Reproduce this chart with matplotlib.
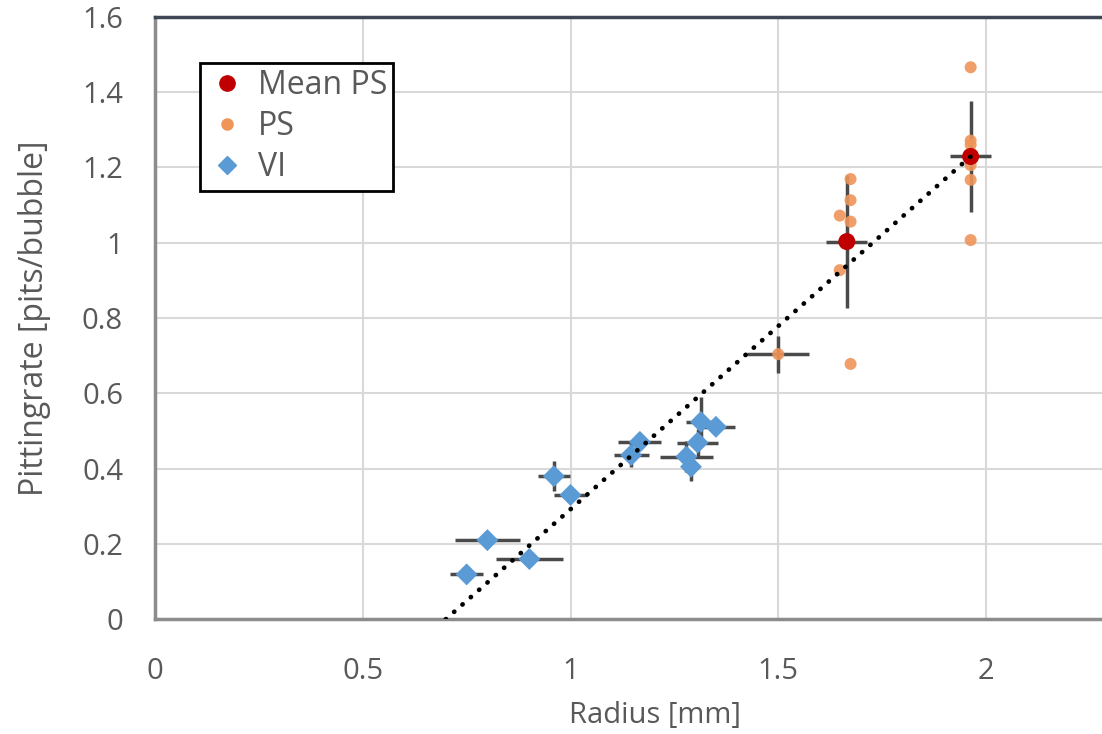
import numpy as np
import matplotlib
matplotlib.use("Agg")
import matplotlib.pyplot as plt
from matplotlib.lines import Line2D

# Visual inspection (VI) measurements
vi_radius = [0.750, 0.800, 0.901, 0.960, 1.000, 1.146, 1.167, 1.279, 1.290, 1.306, 1.314, 1.350]
vi_rate = [0.119, 0.210, 0.160, 0.380, 0.330, 0.436, 0.471, 0.432, 0.405, 0.469, 0.524, 0.511]
vi_radius_err = [0.039, 0.079, 0.080, 0.039, 0.039, 0.042, 0.052, 0.063, 0.020, 0.050, 0.036, 0.046]
vi_rate_err = [0.020, 0.0, 0.0, 0.039, 0.0, 0.033, 0.0, 0.040, 0.037, 0.035, 0.065, 0.0]

# Individual PS measurements
ps_radius = [1.500, 1.674, 1.674, 1.648, 1.674, 1.648, 1.674,
             1.963, 1.963, 1.963, 1.963, 1.963, 1.963]
ps_rate = [0.704, 1.169, 1.113, 1.072, 1.056, 0.927, 0.678,
           1.466, 1.271, 1.260, 1.206, 1.167, 1.007]
ps_radius_err = [0.075, 0, 0, 0, 0, 0, 0, 0, 0, 0, 0, 0, 0]
ps_rate_err = [0.049, 0, 0, 0, 0, 0, 0, 0, 0, 0, 0, 0, 0]

# Mean PS values
mean_radius = [1.665, 1.963]
mean_rate = [1.003, 1.229]
mean_radius_err = [0.049, 0.049]
mean_rate_err = [0.177, 0.147]

# Linear trendline: rate = slope * radius + intercept
trend_slope = 0.973
trend_intercept = -0.681
trend_end = 1.963

text_color = "#595959"
err_color = "#4a4a4a"

plt.rcParams["font.family"] = ["Open Sans", "DejaVu Sans"]

fig = plt.figure(figsize=(11.02, 7.34), dpi=100)
ax = fig.add_axes([155 / 1102, (734 - 619.2) / 734, (1102 - 155) / 1102, (619.2 - 16.8) / 734])

ax.set_xlim(0, 947 / 415.5)
ax.set_ylim(0, 1.6)
ax.set_xticks([0, 0.5, 1, 1.5, 2])
ax.set_xticklabels(["0", "0.5", "1", "1.5", "2"])
ax.set_yticks(np.arange(0, 1.61, 0.2))
ax.set_yticklabels(["0", "0.2", "0.4", "0.6", "0.8", "1", "1.2", "1.4", "1.6"])
ax.grid(True, color="#d9d9d9", linewidth=1.5, zorder=0)
ax.set_axisbelow(True)
ax.tick_params(length=0, labelsize=21, colors=text_color)
ax.tick_params(axis="x", pad=27)
ax.tick_params(axis="y", pad=23)

for side in ["left", "bottom"]:
    ax.spines[side].set_color("#8c8c8c")
    ax.spines[side].set_linewidth(2.5)
ax.spines["top"].set_color("#3f4756")
ax.spines["top"].set_linewidth(2.5)
ax.spines["right"].set_visible(False)

# Error bars (drawn beneath the markers)
ax.errorbar(vi_radius, vi_rate, xerr=vi_radius_err, yerr=vi_rate_err, fmt="none",
            ecolor=err_color, elinewidth=2.5, capsize=0, zorder=2)
ax.errorbar(ps_radius, ps_rate, xerr=ps_radius_err, yerr=ps_rate_err, fmt="none",
            ecolor=err_color, elinewidth=2.5, capsize=0, zorder=2)
ax.errorbar(mean_radius, mean_rate, xerr=mean_radius_err, yerr=mean_rate_err, fmt="none",
            ecolor=err_color, elinewidth=2.5, capsize=0, zorder=2)

ax.scatter(vi_radius, vi_rate, marker="D", s=125, color="#5b9bd5", edgecolors="none", zorder=3)
ax.scatter(ps_radius, ps_rate, marker="o", s=75, color="#f0955a", alpha=0.9, edgecolors="none", zorder=4)
ax.scatter(mean_radius, mean_rate, marker="o", s=150, color="#c00000", edgecolors="none", zorder=5)

# Trendline from its zero crossing up to the largest radius
x0 = -trend_intercept / trend_slope
tx = np.array([x0, trend_end])
ax.plot(tx, trend_slope * tx + trend_intercept, color="black", linewidth=3.4,
        linestyle=(0, (0.05, 2.3)), dash_capstyle="round", zorder=6)

ax.set_xlabel("Radius [mm]", fontsize=21, color=text_color)
ax.xaxis.set_label_coords(0.528, -0.135)
ax.set_ylabel("Pittingrate [pits/bubble]", fontsize=23, color=text_color, labelpad=22)

handles = [
    Line2D([], [], marker="o", linestyle="none", color="#c00000", markersize=11),
    Line2D([], [], marker="o", linestyle="none", color="#f0955a", markersize=8),
    Line2D([], [], marker="D", linestyle="none", color="#5b9bd5", markersize=9),
]
leg = ax.legend(handles, ["Mean PS", "PS", "VI"], loc="upper left",
                bbox_to_anchor=(45 / 947, (619.2 - 63) / 602.4), borderaxespad=0,
                fancybox=False, edgecolor="black", framealpha=1, fontsize=23,
                handletextpad=0.3, handlelength=1.3, labelspacing=0.25,
                borderpad=0.2, labelcolor=text_color)
leg.get_frame().set_linewidth(2)

fig.savefig("out.png", dpi=100)
